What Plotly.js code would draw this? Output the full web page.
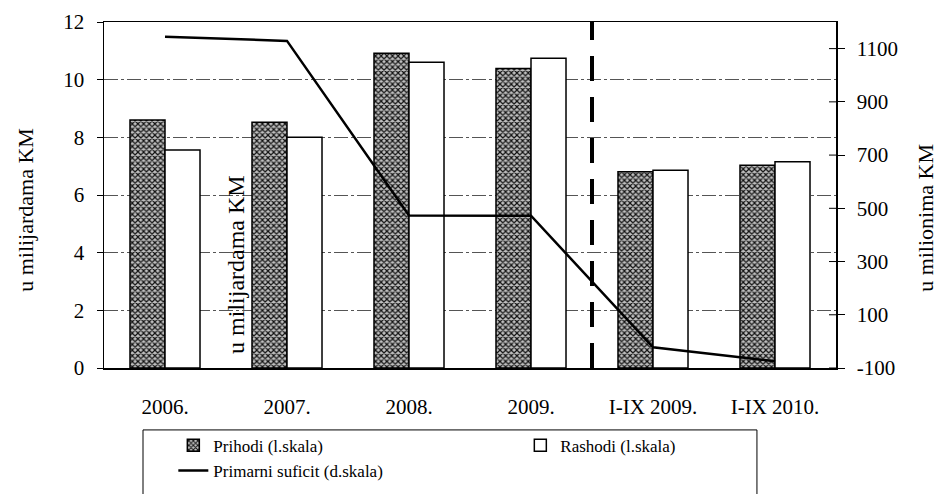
<!DOCTYPE html>
<html>
<head>
<meta charset="utf-8">
<script src="https://cdn.plot.ly/plotly-3.0.1.min.js"></script>
<style>html,body{margin:0;padding:0;background:#fff;}#chart{width:942px;height:494px;}</style>
</head>
<body>
<div id="chart"></div>
<script>
const categories = ["2006.", "2007.", "2008.", "2009.", "I-IX 2009.", "I-IX 2010."];
const prihodi = [8.6, 8.52, 10.92, 10.39, 6.81, 7.03];
const rashodi = [7.56, 8.0, 10.6, 10.74, 6.86, 7.15];
const primarniSuficit = [1145, 1129, 473, 472, -22, -75];
const leftTicks = [0, 2, 4, 6, 8, 10, 12];
const rightTicks = [-100, 100, 300, 500, 700, 900, 1100];

const serif = "Liberation Serif";

const traces = [
  {
    type: "bar", name: "Prihodi (l.skala)", x: categories, y: prihodi,
    marker: {
      color: "#9a9a9a",
      line: {color: "#000", width: 1.5},
      pattern: {shape: "x", fgcolor: "#111", bgcolor: "#c0c0c0", size: 4, solidity: 0.5}
    }
  },
  {
    type: "bar", name: "Rashodi (l.skala)", x: categories, y: rashodi,
    marker: {color: "#fff", line: {color: "#000", width: 1.5}}
  },
  {
    type: "scatter", mode: "lines", name: "Primarni suficit (d.skala)",
    x: categories, y: primarniSuficit, yaxis: "y2",
    line: {color: "#000", width: 2.5}
  }
];

// inner half of the crossing ticks on the right axis
const innerTicks = rightTicks.map(v => ({
  type: "line", xref: "paper", yref: "y2", x0: 1 - 7 / 732, x1: 1, y0: v, y1: v,
  line: {color: "#000", width: 1}
}));

const layout = {
  width: 942, height: 494,
  margin: {l: 104, r: 106, t: 22, b: 126, autoexpand: false},
  paper_bgcolor: "#fff", plot_bgcolor: "#fff",
  font: {family: serif, color: "#000", size: 21},
  barmode: "group", bargap: 0.426, bargroupgap: 0,
  showlegend: true,
  legend: {
    orientation: "h", xref: "container", yref: "container",
    x: 0.184, xanchor: "left", y: 0.134, yanchor: "top",
    entrywidth: 302, entrywidthmode: "pixels",
    font: {family: serif, size: 17, color: "#000"},
    bgcolor: "rgba(0,0,0,0)", traceorder: "normal", itemwidth: 30
  },
  xaxis: {
    type: "category", showline: true, linecolor: "#000", linewidth: 1.5, mirror: true,
    ticks: "", ticklabelstandoff: 19, tickfont: {family: serif, size: 21}, showgrid: false
  },
  yaxis: {
    range: [0, 12], tickvals: leftTicks, ticktext: leftTicks.map(String),
    showline: true, linecolor: "#000", linewidth: 1.5,
    ticks: "outside", ticklen: 6, tickcolor: "#000", ticklabelstandoff: 8,
    showgrid: true, gridcolor: "#555", gridwidth: 1, griddash: "14px,3px,3px,3px",
    zeroline: false, tickfont: {family: serif, size: 21}
  },
  yaxis2: {
    overlaying: "y", side: "right", range: [-100, 1200],
    tickvals: rightTicks, ticktext: rightTicks.map(String),
    showline: true, linecolor: "#000", linewidth: 1.5,
    ticks: "outside", ticklen: 7, tickcolor: "#000", ticklabelstandoff: 8,
    showgrid: false, zeroline: false, tickfont: {family: serif, size: 21}
  },
  shapes: [
    {type: "line", xref: "x", yref: "paper", x0: 3.5, x1: 3.5, y0: 0, y1: 1,
     line: {color: "#000", width: 4, dash: "25px,16px"}},
    {type: "rect", xref: "paper", yref: "paper", x0: 0.0533, x1: 0.892, y0: -0.40, y1: -0.179,
     line: {color: "#000", width: 1}, fillcolor: "rgba(0,0,0,0)"}
  ].concat(innerTicks),
  annotations: [
    {text: "u milijardama KM", xref: "paper", yref: "paper", x: -0.1066, y: 0.457,
     xanchor: "center", yanchor: "middle",
     textangle: -90, showarrow: false, font: {family: serif, size: 22}},
    {text: "u milionima KM", xref: "paper", yref: "paper", x: 1.123, y: 0.434,
     xanchor: "center", yanchor: "middle",
     textangle: -90, showarrow: false, font: {family: serif, size: 22}},
    {text: "u milijardama KM", xref: "paper", yref: "paper", x: 0.18, y: 0.30,
     xanchor: "center", yanchor: "middle",
     textangle: -90, showarrow: false, font: {family: serif, size: 24}}
  ]
};

Plotly.newPlot("chart", traces, layout, {displayModeBar: false, staticPlot: true});
</script>
</body>
</html>
